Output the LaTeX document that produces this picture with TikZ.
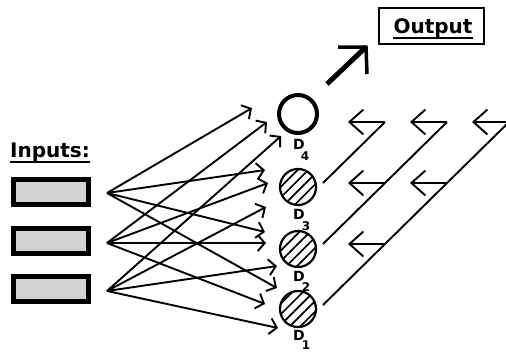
\documentclass[tikz,border=0pt]{standalone}
\usepackage{fontspec}
\setmainfont{DejaVu Sans}
\usetikzlibrary{arrows.meta,patterns.meta}
\begin{document}
\begin{tikzpicture}[x=1pt,y=-1pt,
  conn/.style={line width=1.9pt},
  fan/.style={conn,-{Straight Barb[length=7pt,width=16pt]}},
  back/.style={conn,-{Straight Barb[length=14pt,width=25pt]}},
  inbox/.style={draw,line width=5pt,fill=gray!35,minimum width=75pt,minimum height=25pt,inner sep=0pt},
  hatched/.style={circle,draw,line width=2.2pt,minimum size=36pt,inner sep=0pt,
    pattern={Lines[angle=45,distance=7.5pt,line width=1.7pt]}},
  openc/.style={circle,draw,line width=4pt,minimum size=38pt,inner sep=0pt},
  dlab/.style={font=\bfseries\fontsize{14}{14}\selectfont,inner sep=0pt},
  dsub/.style={font=\bfseries\fontsize{12}{12}\selectfont,inner sep=0pt},
  title/.style={font=\bfseries\fontsize{20}{20}\selectfont,inner sep=0pt,anchor=base},
  uline/.style={line width=1.8pt}]
\useasboundingbox (0,0) rectangle (506,351);
\clip (0,0) rectangle (506,351);

% titles
\node[title] (inp) at (50,157) {Inputs:};
\draw[uline] ([yshift=-0.5pt]inp.south west) -- ([yshift=-0.5pt]inp.south east);
\node[draw,line width=1.8pt,minimum width=105pt,minimum height=36pt,inner sep=0pt] (outbox) at (431.5,26) {};
\node[title] (out) at (433,33) {Output};
\draw[uline] ([yshift=-0.5pt]out.south west) -- ([yshift=-0.5pt]out.south east);

% input boxes
\node[inbox] (b1) at (51,192) {};
\node[inbox] (b2) at (51,240.5) {};
\node[inbox] (b3) at (51,289) {};

% convergence points
\coordinate (i1) at (107,193);
\coordinate (i2) at (107,243);
\coordinate (i3) at (107,291);

% circles
\node[openc] (d4) at (298,114) {};
\node[hatched] (d3) at (298,187) {};
\node[hatched] (d2) at (298,249) {};
\node[hatched] (d1) at (298,309) {};

% labels
\node[dlab] (l4) at (299,144) {D};  \node[dsub] (n4) at (305,156) {4};
\node[dlab] (l3) at (299,214) {D};  \node[dsub] (n3) at (306,226) {3};
\node[dlab] (l2) at (299,276) {D};  \node[dsub] (n2) at (306,287) {2};
\node[dlab] (l1) at (299,335) {D};  \node[dsub] (n1) at (306,345) {1};

% fan tips
\coordinate (t41) at (252,108); \coordinate (t42) at (267,122); \coordinate (t43) at (281,136);
\coordinate (t31) at (265,170); \coordinate (t32) at (268,183); \coordinate (t33) at (266,207);
\coordinate (t21) at (265,232); \coordinate (t22) at (266,243); \coordinate (t23) at (277,266);
\coordinate (t11) at (277,288); \coordinate (t12) at (265,304); \coordinate (t13) at (278,328);

\foreach \c in {1,2,3,4}{
  \foreach \i in {1,2,3}{
    \draw[fan] (i\i) -- (t\c\i);
  }
}

% diagonal feedback lines
\coordinate (s3) at (323,183);
\coordinate (s2) at (323,244);
\coordinate (s1) at (323,305);
\coordinate (a11) at (385,122); \coordinate (a12) at (447,122); \coordinate (a13) at (509,122);
\coordinate (a21) at (385,183); \coordinate (a22) at (447,183);
\coordinate (a31) at (385,244);
\draw[conn] (s3) -- (a11);
\draw[conn] (s2) -- (a21) -- (a12);
\draw[conn] (s1) -- (a31) -- (a22) -- (a13);

% left-pointing arrows
\coordinate (h11) at (348,122); \coordinate (h12) at (410,122); \coordinate (h13) at (472,122);
\coordinate (h21) at (348,183); \coordinate (h22) at (410,183);
\coordinate (h31) at (348,244);
\foreach \r/\k in {1/1,1/2,1/3,2/1,2/2,3/1}{
  \draw[back] (a\r\k) -- (h\r\k);
}

% output arrow
\coordinate (oa0) at (327,84);
\coordinate (oa1) at (366,47);
\coordinate (ob1) at (338,47);
\coordinate (ob2) at (367,74);
\draw[line width=5pt] (oa0) -- (oa1);
\draw[line width=3.5pt,miter limit=10] (ob1) -- (oa1) -- (ob2);
\end{tikzpicture}
\end{document}
